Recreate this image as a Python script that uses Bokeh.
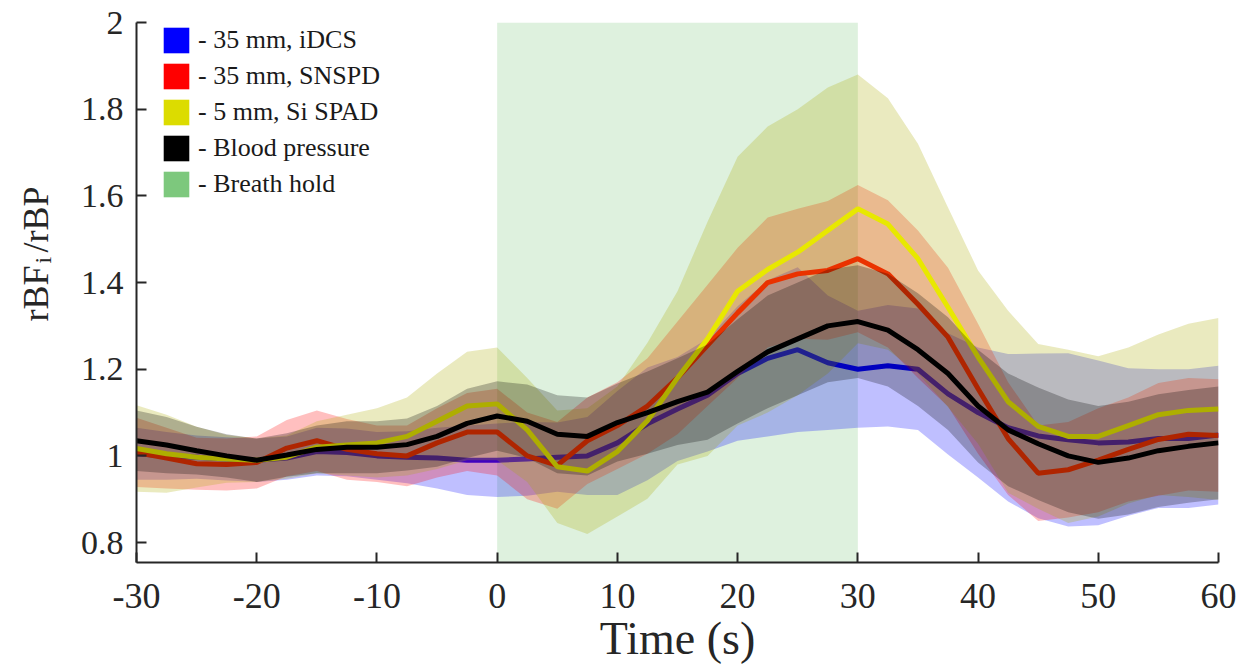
import numpy as np
from bokeh.plotting import figure
from bokeh.layouts import row
from bokeh.core.properties import value
from bokeh.models import (Range1d, FixedTicker, CustomJSTickFormatter, BoxAnnotation,
                          Legend, LegendItem)
from bokeh.embed import file_html
from bokeh.resources import INLINE

# ---------------- data ----------------
time_s = [-30, -27.5, -25, -22.5, -20, -17.5, -15, -12.5, -10, -7.5, -5, -2.5, 0,
          2.5, 5, 7.5, 10, 12.5, 15, 17.5, 20, 22.5, 25, 27.5, 30, 32.5, 35, 37.5,
          40, 42.5, 45, 47.5, 50, 52.5, 55, 57.5, 60]

idcs_mean = [1.005, 1.0, 0.997, 0.993, 0.99, 0.995, 1.01, 1.008, 1.0, 0.997, 0.995, 0.99, 0.99,
             0.993, 0.997, 1.0, 1.03, 1.074, 1.108, 1.14, 1.19, 1.225, 1.245, 1.215, 1.2, 1.208,
             1.2, 1.143, 1.10, 1.065, 1.046, 1.037, 1.03, 1.032, 1.04, 1.04, 1.048]
idcs_sd = [0.06, 0.055, 0.05, 0.05, 0.05, 0.05, 0.055, 0.055, 0.055, 0.06, 0.07, 0.08, 0.085,
           0.085, 0.08, 0.09, 0.12, 0.13, 0.12, 0.13, 0.155, 0.18, 0.19, 0.155, 0.135, 0.14,
           0.14, 0.14, 0.15, 0.17, 0.19, 0.2, 0.19, 0.17, 0.16, 0.16, 0.16]

snspd_mean = [1.008, 0.995, 0.982, 0.98, 0.985, 1.018, 1.035, 1.015, 1.005, 1.0, 1.03, 1.055, 1.055,
              1.0, 0.978, 1.035, 1.07, 1.115, 1.18, 1.255, 1.33, 1.40, 1.42, 1.428, 1.455, 1.42,
              1.35, 1.274, 1.155, 1.04, 0.96, 0.968, 0.99, 1.015, 1.038, 1.05, 1.047]
snspd_sd = [0.08, 0.07, 0.06, 0.06, 0.06, 0.065, 0.07, 0.07, 0.065, 0.07, 0.08, 0.09, 0.1,
            0.1, 0.1, 0.1, 0.1, 0.11, 0.13, 0.14, 0.15, 0.15, 0.15, 0.16, 0.17, 0.17,
            0.17, 0.16, 0.15, 0.13, 0.11, 0.11, 0.12, 0.12, 0.13, 0.13, 0.13]

spad_mean = [1.017, 1.005, 0.997, 0.993, 0.99, 0.997, 1.02, 1.025, 1.03, 1.045, 1.08, 1.115, 1.12,
             1.06, 0.975, 0.965, 1.01, 1.081, 1.18, 1.27, 1.38, 1.43, 1.47, 1.52, 1.57, 1.535,
             1.455, 1.343, 1.228, 1.125, 1.068, 1.045, 1.045, 1.07, 1.095, 1.105, 1.108]
spad_sd = [0.10, 0.09, 0.07, 0.055, 0.05, 0.05, 0.06, 0.07, 0.08, 0.09, 0.11, 0.125, 0.13,
           0.12, 0.13, 0.145, 0.15, 0.18, 0.2, 0.27, 0.31, 0.33, 0.33, 0.33, 0.31, 0.29,
           0.265, 0.23, 0.2, 0.21, 0.19, 0.2, 0.185, 0.18, 0.185, 0.2, 0.21]

bp_mean = [1.035, 1.025, 1.012, 1.0, 0.99, 1.002, 1.015, 1.02, 1.02, 1.026, 1.045, 1.075, 1.092,
           1.08, 1.05, 1.045, 1.077, 1.10, 1.125, 1.147, 1.195, 1.24, 1.27, 1.30, 1.31, 1.29,
           1.245, 1.19, 1.115, 1.06, 1.028, 1.0, 0.985, 0.995, 1.012, 1.022, 1.03]
bp_sd = [0.07, 0.065, 0.055, 0.05, 0.05, 0.05, 0.055, 0.06, 0.06, 0.06, 0.07, 0.08, 0.08,
         0.085, 0.09, 0.09, 0.09, 0.095, 0.1, 0.11, 0.12, 0.13, 0.13, 0.13, 0.13, 0.13,
         0.13, 0.13, 0.13, 0.13, 0.13, 0.13, 0.13, 0.13, 0.13, 0.13, 0.13]

breath_hold = [0, 30]
labels = ["- 35 mm, iDCS", "- 35 mm, SNSPD", "- 5 mm, Si SPAD", "- Blood pressure", "- Breath hold"]
x_ticks = [-30, -20, -10, 0, 10, 20, 30, 40, 50, 60]
y_ticks = [0.8, 1.0, 1.2, 1.4, 1.6, 1.8, 2.0]

# ---------------- layout ----------------
W, H = 1249, 671
LABEL_W = 70
FRAME_TOP, FRAME_BOTTOM = 22, 562
axis_col = "#262626"

# narrow strip holding the y-axis title (with subscript).  Its frame is aligned with the
# main plot's frame (rows align frames), so y is measured in pixels up from py=562.
lab = figure(width=LABEL_W, height=H, output_backend="svg", toolbar_location=None,
             x_range=Range1d(0, LABEL_W), y_range=Range1d(0, FRAME_BOTTOM - FRAME_TOP),
             x_axis_type=None, y_axis_type=None, min_border=0,
             min_border_top=FRAME_TOP, min_border_bottom=H - FRAME_BOTTOM)
lab.outline_line_color = None
lab.grid.visible = False
lab.text(x=[35, 35], y=[FRAME_BOTTOM - 321, FRAME_BOTTOM - 252], text=["rBF", "/rBP"],
         angle=np.pi / 2, text_font=value("Liberation Serif"), text_font_size="36px",
         text_color=axis_col, text_align="left", text_baseline="alphabetic")
lab.text(x=[42], y=[FRAME_BOTTOM - 263], text=["i"], angle=np.pi / 2,
         text_font=value("Liberation Serif"), text_font_size="24px", text_color=axis_col,
         text_align="left", text_baseline="alphabetic")

p = figure(width=W - LABEL_W, height=H, output_backend="svg", toolbar_location=None,
           x_range=Range1d(-30, 60), y_range=Range1d(0.754, 2.0),
           min_border_left=136 - LABEL_W, min_border_right=31, min_border_top=FRAME_TOP,
           min_border_bottom=H - FRAME_BOTTOM)
p.outline_line_color = None
p.grid.visible = False

for ax in (p.xaxis[0], p.yaxis[0]):
    ax.axis_line_color = axis_col
    ax.axis_line_width = 2
    ax.major_tick_line_color = axis_col
    ax.major_tick_line_width = 2
    ax.major_tick_in = 10
    ax.major_tick_out = 0
    ax.minor_tick_line_color = None
    ax.major_label_text_font = "Liberation Serif"
    ax.major_label_text_color = axis_col

p.xaxis.ticker = FixedTicker(ticks=x_ticks)
p.xaxis.formatter = CustomJSTickFormatter(code="return tick.toFixed(0);")
p.xaxis.major_label_text_font_size = "36px"
p.xaxis.major_label_standoff = 21
p.xaxis.axis_label = "Time (s)"
p.xaxis.axis_label_text_font = "Liberation Serif"
p.xaxis.axis_label_text_font_style = "normal"
p.xaxis.axis_label_text_font_size = "46px"
p.xaxis.axis_label_text_color = axis_col
p.xaxis.axis_label_standoff = 2

p.yaxis.ticker = FixedTicker(ticks=y_ticks)
p.yaxis.formatter = CustomJSTickFormatter(code="return (Math.round(tick*10)/10).toString();")
p.yaxis.major_label_text_font_size = "34px"
p.yaxis.major_label_standoff = 13

# breath hold shading
p.add_layout(BoxAnnotation(left=breath_hold[0], right=breath_hold[1], fill_color=(125, 200, 125),
                           fill_alpha=0.25, line_alpha=0, level="underlay"))

t = np.array(time_s)
series = [
    (idcs_mean, idcs_sd, (0, 0, 255), (0, 0, 255)),
    (snspd_mean, snspd_sd, (255, 0, 0), (255, 10, 0)),
    (spad_mean, spad_sd, (170, 170, 0), (232, 232, 0)),
    (bp_mean, bp_sd, (0, 0, 0), (0, 0, 0)),
]
for m, s, band_col, line_col in series:
    m = np.array(m); s = np.array(s)
    p.varea(x=t, y1=m - s, y2=m + s, fill_color=band_col, fill_alpha=0.25)
    p.line(t, m, line_color=line_col, line_width=5)

# legend (solid squares); proxy renderers hold a single NaN so nothing is drawn in the plot
leg_cols = [(0, 0, 255), (255, 0, 0), (220, 220, 0), (0, 0, 0), (125, 200, 125)]
items = []
for lab_txt, c in zip(labels, leg_cols):
    r = p.quad(left=[np.nan], right=[np.nan], top=[np.nan], bottom=[np.nan],
               fill_color=c, line_color=None)
    items.append(LegendItem(label=lab_txt, renderers=[r]))
legend = Legend(items=items, location=(22, 360), glyph_width=32, glyph_height=32, spacing=4,
                padding=2, margin=0, label_standoff=6, label_text_font="Liberation Serif",
                label_text_font_size="26px", label_text_color="#1a1a1a",
                background_fill_alpha=0, border_line_alpha=0)
p.add_layout(legend)

layout = row(lab, p, spacing=0)
open("out.html", "w").write(file_html(layout, INLINE))
